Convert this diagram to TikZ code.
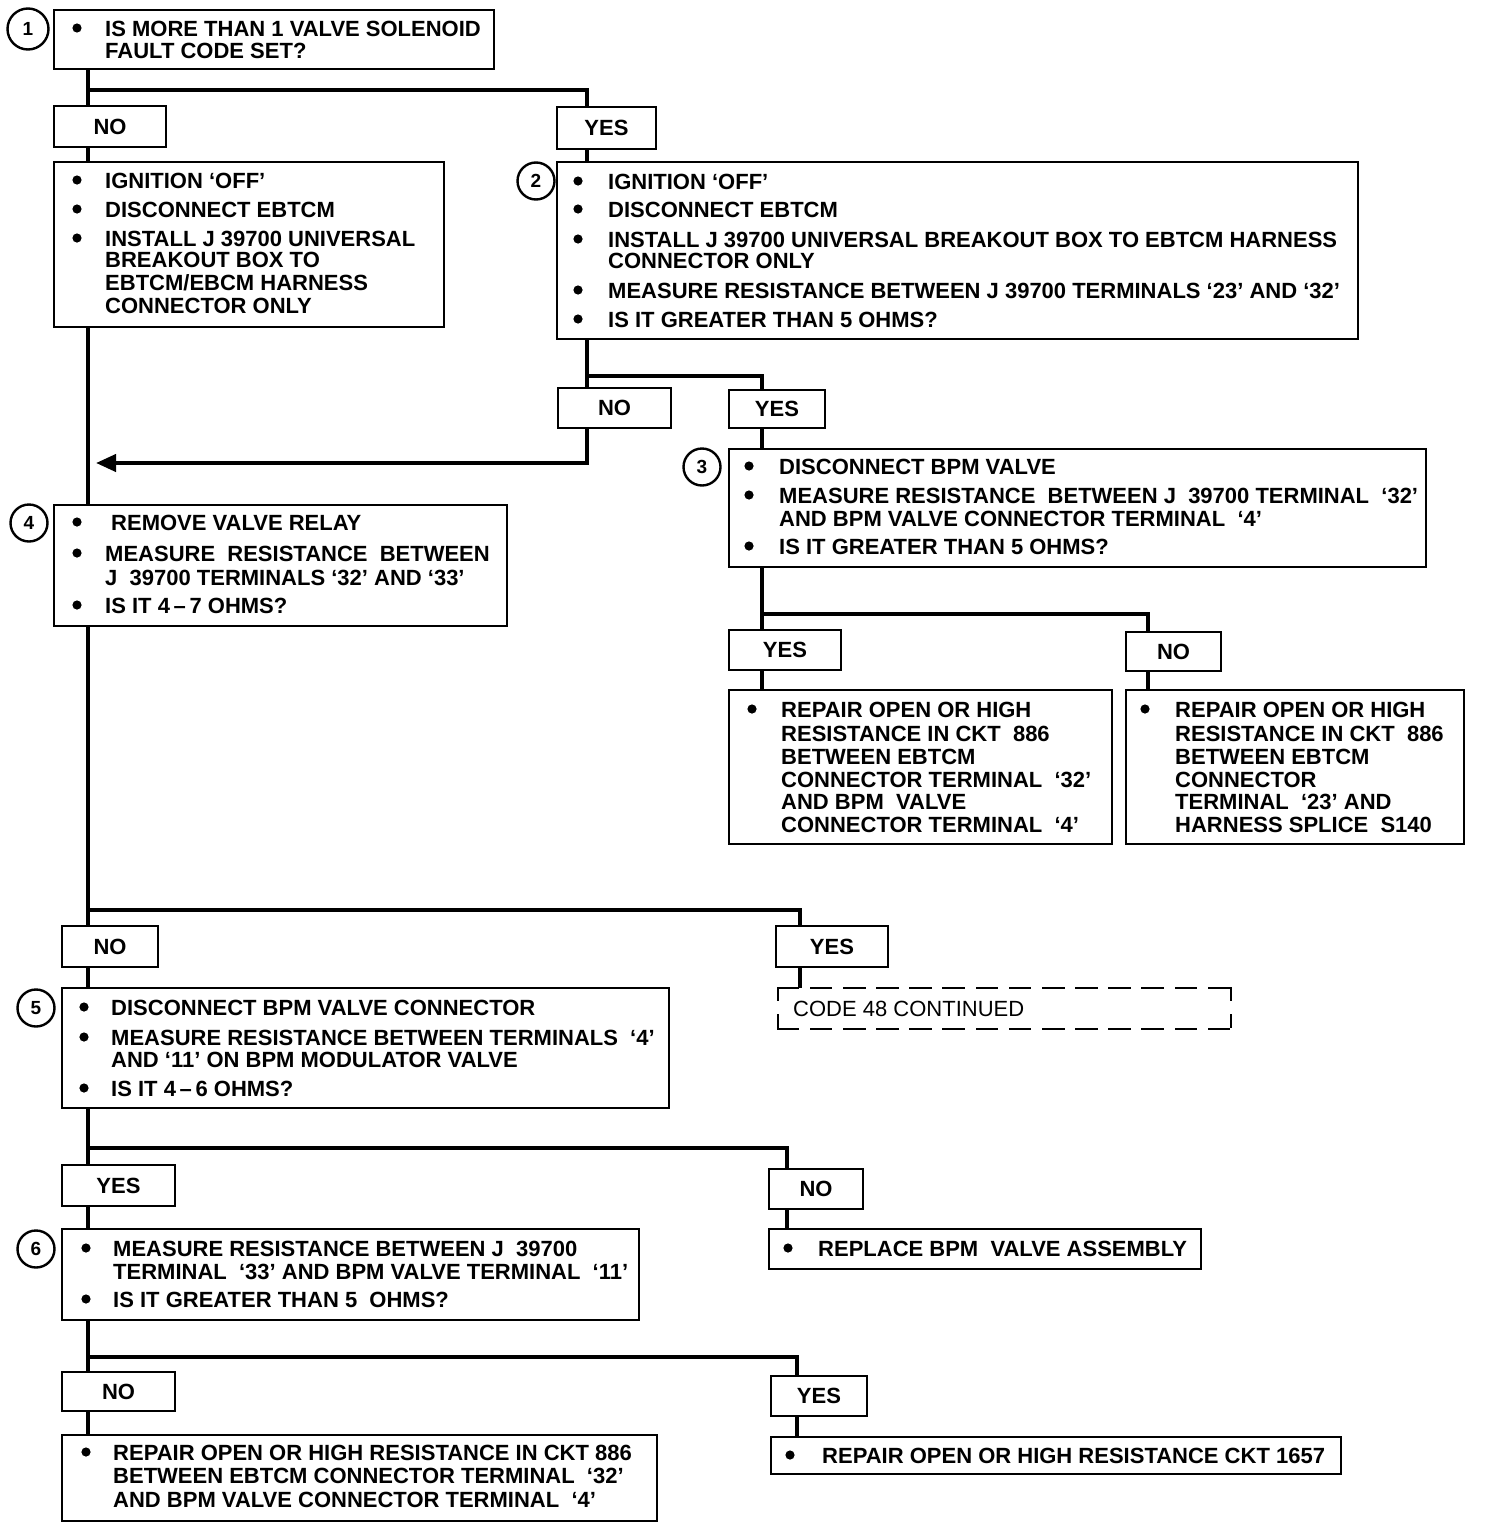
\documentclass[tikz,border=0pt]{standalone}
\usepackage{fontspec}
\setmainfont{Liberation Sans}
\usetikzlibrary{arrows.meta}
\newcounter{tn}
\newcommand\mybx[6][box]{\node[#1, minimum width={#5-#3}, minimum height={#6-#4}] (#2) at ({(#3+#5)/2},{(#4+#6)/2}) {};}
\newcommand\mylab[6]{\node[lab, minimum width={#5-#3}, minimum height={#6-#4}] (#2) at ({(#3+#5)/2},{(#4+#6)/2}) {#1};}
\newcommand\mytx[3]{\stepcounter{tn}\node[txt] (t\arabic{tn}) at (#1,{#2+8}) {#3};}
\newcommand\mybu[2]{\fill (#1,#2) circle (4.6pt);}
\begin{document}
\begin{tikzpicture}[x=1pt,y=-1pt,
 box/.style={draw,line width=2.6pt,inner sep=0pt,outer sep=0pt},
 nbox/.style={inner sep=0pt,outer sep=0pt},
 dside/.style={line width=2.6pt,line cap=rect,dash pattern=on 20pt off 13.15pt},
 vside/.style={line width=2.6pt,line cap=rect,dash pattern=on 12pt off 15pt},
 lab/.style={box,font=\fontsize{22}{26}\selectfont\bfseries},
 txt/.style={anchor=base west,inner sep=0pt,font=\fontsize{22}{26}\selectfont\bfseries},
 ctxt/.style={anchor=base west,inner sep=0pt,font=\fontsize{22}{26}\selectfont},
 num/.style={circle,draw,line width=2.4pt,minimum size=37pt,inner sep=0pt,font=\fontsize{19}{22}\selectfont\bfseries},
 conn/.style={line width=4pt,line join=miter},
]
\useasboundingbox (0,0) rectangle (1488,1534);

% column coordinates
\coordinate (xA) at (88,0);
\coordinate (xB) at (587,0);
\coordinate (xC) at (762,0);
\coordinate (xD) at (1148,0);
\coordinate (xE) at (800,0);
\coordinate (xF) at (787,0);
\coordinate (xG) at (797,0);

% boxes
\mybx{b1}{54}{10}{494}{69}
\mybx{bA}{54}{162}{444}{327}
\mybx{b2}{557}{162}{1358}{339}
\mybx{b3}{729}{449}{1426}{567}
\mybx{b4}{54}{505}{507}{626}
\mybx{bY3}{729}{690}{1112}{844}
\mybx{bN3}{1126}{690}{1464}{844}
\mybx[nbox]{bC}{778}{988}{1231}{1029}
\draw[dside] (bC.north west) -- (bC.north east);
\draw[dside] (bC.south west) -- (bC.south east);
\draw[vside] (bC.north west) -- (bC.south west);
\draw[vside] (bC.north east) -- (bC.south east);
\mybx{b5}{62}{988}{669}{1108}
\mybx{bR}{769}{1229}{1201}{1269}
\mybx{b6}{62}{1229}{639}{1320}
\mybx{bL}{62}{1435}{657}{1521}
\mybx{bRR}{771}{1437}{1341}{1474}

% labels
\mylab{NO}{no1}{54}{106}{166}{147}
\mylab{YES}{yes1}{557}{107}{656}{149}
\mylab{NO}{no2}{558}{388}{671}{428}
\mylab{YES}{yes2}{729}{390}{825}{428}
\mylab{YES}{yes3}{729}{630}{841}{670}
\mylab{NO}{no3}{1126}{632}{1221}{671}
\mylab{NO}{no4}{62}{926}{158}{967}
\mylab{YES}{yes4}{776}{926}{888}{967}
\mylab{YES}{yes5}{62}{1165}{175}{1206}
\mylab{NO}{no5}{769}{1169}{863}{1209}
\mylab{NO}{no6}{62}{1372}{175}{1411}
\mylab{YES}{yes6}{771}{1376}{867}{1416}

% step numbers
\node[num,minimum size=41pt] (c1) at (28,29) {1};
\node[num] (c2) at (536,181) {2};
\node[num] (c3) at (702,467) {3};
\node[num] (c4) at (29,523) {4};
\node[num] (c5) at (36,1008) {5};
\node[num] (c6) at (36,1249) {6};

% junctions
\coordinate (j1) at (88,90);
\coordinate (j2) at (587,376);
\coordinate (j3) at (762,614);
\coordinate (j4) at (88,910);
\coordinate (j5) at (88,1148);
\coordinate (j6) at (88,1357);
\coordinate (ah) at (96,463);

% connectors
\draw[conn] (b1.south -| xA) -- (no1.north -| xA);
\draw[conn] (j1) -| (yes1.north -| xB);
\draw[conn] (no1.south -| xA) -- (bA.north -| xA);
\draw[conn] (yes1.south -| xB) -- (b2.north -| xB);
\draw[conn] (bA.south -| xA) -- (b4.north -| xA);
\draw[conn] (b2.south -| xB) -- (no2.north -| xB);
\draw[conn] (j2) -| (yes2.north -| xC);
\draw[conn,-{Triangle[length=20pt,width=17pt]}] (no2.south -| xB) |- (ah);
\draw[conn] (yes2.south -| xC) -- (b3.north -| xC);
\draw[conn] (b3.south -| xC) -- (yes3.north -| xC);
\draw[conn] (j3) -| (no3.north -| xD);
\draw[conn] (yes3.south -| xC) -- (bY3.north -| xC);
\draw[conn] (no3.south -| xD) -- (bN3.north -| xD);
\draw[conn] (b4.south -| xA) -- (no4.north -| xA);
\draw[conn] (j4) -| (yes4.north -| xE);
\draw[conn] (no4.south -| xA) -- (b5.north -| xA);
\draw[conn] (yes4.south -| xE) -- (bC.north -| xE);
\draw[conn] (b5.south -| xA) -- (yes5.north -| xA);
\draw[conn] (j5) -| (no5.north -| xF);
\draw[conn] (yes5.south -| xA) -- (b6.north -| xA);
\draw[conn] (no5.south -| xF) -- (bR.north -| xF);
\draw[conn] (b6.south -| xA) -- (no6.north -| xA);
\draw[conn] (j6) -| (yes6.north -| xG);
\draw[conn] (no6.south -| xA) -- (bL.north -| xA);
\draw[conn] (yes6.south -| xG) -- (bRR.north -| xG);

% box 1
\mybu{77}{28}
\mytx{105}{28}{IS MORE THAN 1 VALVE SOLENOID}
\mytx{105}{50}{FAULT CODE SET?}

% box A
\mybu{77}{180}\mybu{77}{209}\mybu{77}{238}
\mytx{105}{180}{IGNITION `OFF'}
\mytx{105}{209}{DISCONNECT EBTCM}
\mytx{105}{238}{INSTALL J 39700 UNIVERSAL}
\mytx{105}{259}{BREAKOUT BOX TO}
\mytx{105}{282}{EBTCM/EBCM HARNESS}
\mytx{105}{305}{CONNECTOR ONLY}

% box 2
\mybu{578}{181}\mybu{578}{209}\mybu{578}{239}\mybu{578}{290}\mybu{578}{319}
\mytx{608}{181}{IGNITION `OFF'}
\mytx{608}{209}{DISCONNECT EBTCM}
\mytx{608}{239}{INSTALL J 39700 UNIVERSAL BREAKOUT BOX TO EBTCM HARNESS}
\mytx{608}{260}{CONNECTOR ONLY}
\mytx{608}{290}{MEASURE RESISTANCE BETWEEN J 39700 TERMINALS `23' AND `32'}
\mytx{608}{319}{IS IT GREATER THAN 5 OHMS?}

% box 3
\mybu{749}{466}\mybu{749}{495}\mybu{749}{546}
\mytx{779}{466}{DISCONNECT BPM VALVE}
\mytx{779}{495}{MEASURE RESISTANCE\ \ BETWEEN J\ \ 39700 TERMINAL\ \ `32'}
\mytx{779}{518}{AND BPM VALVE CONNECTOR TERMINAL\ \ `4'}
\mytx{779}{546}{IS IT GREATER THAN 5 OHMS?}

% box 4
\mybu{77}{522}\mybu{77}{553}\mybu{77}{605}
\mytx{111}{522}{REMOVE VALVE RELAY}
\mytx{105}{553}{MEASURE\ \ RESISTANCE\ \ BETWEEN}
\mytx{105}{577}{J\ \ 39700 TERMINALS `32' AND `33'}
\mytx{105}{605}{IS IT 4\,--\,7 OHMS?}

% box Y3
\mybu{752}{709}
\mytx{781}{709}{REPAIR OPEN OR HIGH}
\mytx{781}{733}{RESISTANCE IN CKT\ \ 886}
\mytx{781}{756}{BETWEEN EBTCM}
\mytx{781}{779}{CONNECTOR TERMINAL\ \ `32'}
\mytx{781}{801}{AND BPM\ \ VALVE}
\mytx{781}{824}{CONNECTOR TERMINAL\ \ `4'}

% box N3
\mybu{1145}{709}
\mytx{1175}{709}{REPAIR OPEN OR HIGH}
\mytx{1175}{733}{RESISTANCE IN CKT\ \ 886}
\mytx{1175}{756}{BETWEEN EBTCM}
\mytx{1175}{779}{CONNECTOR}
\mytx{1175}{801}{TERMINAL\ \ `23' AND}
\mytx{1175}{824}{HARNESS SPLICE\ \ S140}

% dashed box
\node[ctxt] (tc) at (793,1016) {CODE 48 CONTINUED};

% box 5
\mybu{84}{1007}\mybu{84}{1037}\mybu{84}{1088}
\mytx{111}{1007}{DISCONNECT BPM VALVE CONNECTOR}
\mytx{111}{1037}{MEASURE RESISTANCE BETWEEN TERMINALS\ \ `4'}
\mytx{111}{1059}{AND `11' ON BPM MODULATOR VALVE}
\mytx{111}{1088}{IS IT 4\,--\,6 OHMS?}

% box R
\mybu{788}{1248}
\mytx{818}{1248}{REPLACE BPM\ \ VALVE ASSEMBLY}

% box 6
\mybu{86}{1248}\mybu{86}{1299}
\mytx{113}{1248}{MEASURE RESISTANCE BETWEEN J\ \ 39700}
\mytx{113}{1271}{TERMINAL\ \ `33' AND BPM VALVE TERMINAL\ \ `11'}
\mytx{113}{1299}{IS IT GREATER THAN 5\ \ OHMS?}

% final left
\mybu{86}{1452}
\mytx{113}{1452}{REPAIR OPEN OR HIGH RESISTANCE IN CKT 886}
\mytx{113}{1475}{BETWEEN EBTCM CONNECTOR TERMINAL\ \ `32'}
\mytx{113}{1499}{AND BPM VALVE CONNECTOR TERMINAL\ \ `4'}

% final right
\mybu{790}{1455}
\mytx{822}{1455}{REPAIR OPEN OR HIGH RESISTANCE CKT 1657}
\end{tikzpicture}
\end{document}
